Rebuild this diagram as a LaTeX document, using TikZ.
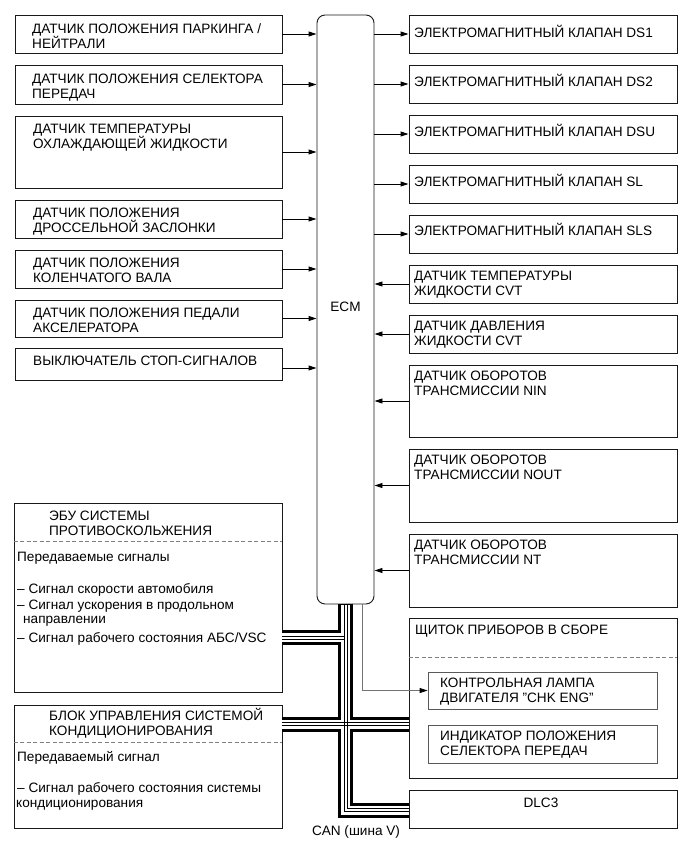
\documentclass[tikz,border=0pt]{standalone}
\usepackage{fontspec}
\setmainfont{Liberation Sans}
\usetikzlibrary{arrows.meta,fit,calc}
\begin{document}
\begin{tikzpicture}[x=1pt,y=-1pt,
  box/.style={draw=black!90, line width=0.9pt, inner sep=0pt},
  ibox/.style={draw=black!65, line width=0.8pt, inner sep=0pt},
  txt/.style={anchor=base west, inner sep=0pt, font=\fontsize{13.6}{15}\selectfont, align=left},
  arr/.style={line width=0.9pt, draw=black, -{Triangle[length=8pt,width=5pt]}},
  garr/.style={line width=0.9pt, draw=black!55, -{Triangle[length=8pt,width=5pt,fill=black,color=black]}},
  sepline/.style={draw=black!50, line width=0.8pt, dash pattern=on 4pt off 2.5pt},
  busouter/.style={draw=black, line width=15pt},
  businner/.style={draw=white, line width=9pt},
  buswire/.style={draw=black, line width=0.8pt},
]
\useasboundingbox (0,0) rectangle (691,855);
\fill[white] (0,0) rectangle (691,855);

% ECM
\node[box, rounded corners=8pt, fit={(317,15)(374,604)}] (ECM) {};
\node[inner sep=0pt, font=\fontsize{13.6}{15}\selectfont] (ECMt) at (345.5,307) {ECM};

% left input boxes
\node[box, fit={(15,15)(282,53)}] (L1) {};
\node[box, fit={(15,65)(282,104)}] (L2) {};
\node[box, fit={(15,116)(282,188)}] (L3) {};
\node[box, fit={(15,200)(282,238)}] (L4) {};
\node[box, fit={(15,250)(282,288)}] (L5) {};
\node[box, fit={(15,300)(282,337)}] (L6) {};
\node[box, fit={(15,348)(282,380)}] (L7) {};
\node[txt] (L1t) at (32,48) {ДАТЧИК ПОЛОЖЕНИЯ ПАРКИНГА /\\НЕЙТРАЛИ};
\node[txt] (L2t) at (32,98) {ДАТЧИК ПОЛОЖЕНИЯ СЕЛЕКТОРА\\ПЕРЕДАЧ};
\node[txt] (L3t) at (33,148) {ДАТЧИК ТЕМПЕРАТУРЫ\\ОХЛАЖДАЮЩЕЙ ЖИДКОСТИ};
\node[txt] (L4t) at (33,232) {ДАТЧИК ПОЛОЖЕНИЯ\\ДРОССЕЛЬНОЙ ЗАСЛОНКИ};
\node[txt] (L5t) at (33,282) {ДАТЧИК ПОЛОЖЕНИЯ\\КОЛЕНЧАТОГО ВАЛА};
\node[txt] (L6t) at (33,332.5) {ДАТЧИК ПОЛОЖЕНИЯ ПЕДАЛИ\\АКСЕЛЕРАТОРА};
\node[txt] (L7t) at (33,365) {ВЫКЛЮЧАТЕЛЬ СТОП-СИГНАЛОВ};

\foreach \n in {L1,L2,L3,L4,L5,L6}{\draw[arr] (\n.east) -- (\n.east -| ECM.west);}
\coordinate (L7a) at (282,368);
\draw[arr] (L7a) -- (L7a -| ECM.west);

% right boxes
\node[box, fit={(409,15)(677,53)}] (R1) {};
\node[box, fit={(409,65)(677,103)}] (R2) {};
\node[box, fit={(409,115)(677,153)}] (R3) {};
\node[box, fit={(409,165)(677,203)}] (R4) {};
\node[box, fit={(409,215)(677,253)}] (R5) {};
\node[box, fit={(409,265)(677,303)}] (R6) {};
\node[box, fit={(409,315)(677,353)}] (R7) {};
\node[box, fit={(409,365)(677,437)}] (R8) {};
\node[box, fit={(409,449)(677,522)}] (R9) {};
\node[box, fit={(409,534)(677,607)}] (R10) {};
\node[txt] (R1t) at (414,37) {ЭЛЕКТРОМАГНИТНЫЙ КЛАПАН DS1};
\node[txt] (R2t) at (414,86) {ЭЛЕКТРОМАГНИТНЫЙ КЛАПАН DS2};
\node[txt] (R3t) at (414,136) {ЭЛЕКТРОМАГНИТНЫЙ КЛАПАН DSU};
\node[txt] (R4t) at (414,186.5) {ЭЛЕКТРОМАГНИТНЫЙ КЛАПАН SL};
\node[txt] (R5t) at (414,235) {ЭЛЕКТРОМАГНИТНЫЙ КЛАПАН SLS};
\node[txt] (R6t) at (414,295) {ДАТЧИК ТЕМПЕРАТУРЫ\\ЖИДКОСТИ CVT};
\node[txt] (R7t) at (414,345) {ДАТЧИК ДАВЛЕНИЯ\\ЖИДКОСТИ CVT};
\node[txt] (R8t) at (414,395.5) {ДАТЧИК ОБОРОТОВ\\ТРАНСМИССИИ NIN};
\node[txt] (R9t) at (414,479.5) {ДАТЧИК ОБОРОТОВ\\ТРАНСМИССИИ NOUT};
\node[txt] (R10t) at (414,564.5) {ДАТЧИК ОБОРОТОВ\\ТРАНСМИССИИ NT};

\foreach \n in {R1,R2,R3,R4,R5}{\draw[arr] (\n.west -| ECM.east) -- (\n.west);}
\foreach \n in {R6,R7,R8,R9,R10}{\draw[arr] (\n.west) -- (\n.west -| ECM.east);}

% instrument cluster
\node[box, fit={(409,618)(677,778)}] (IC) {};
\node[txt] (ICt) at (415,634) {ЩИТОК ПРИБОРОВ В СБОРЕ};
\draw[sepline] (IC.west |- 0,657) -- (IC.east |- 0,657);
\node[ibox, fit={(428,672)(657,709)}] (I1) {};
\node[ibox, fit={(428,725)(657,763)}] (I2) {};
\node[txt] (I1t) at (440,702) {КОНТРОЛЬНАЯ ЛАМПА\\ДВИГАТЕЛЯ "CHK ENG"};
\node[txt] (I2t) at (440,755.5) {ИНДИКАТОР ПОЛОЖЕНИЯ\\СЕЛЕКТОРА ПЕРЕДАЧ};

% DLC3
\node[box, fit={(409,790)(677,828)}] (DLC) {};
\node[anchor=base, inner sep=0pt, font=\fontsize{13.6}{15}\selectfont] (DLCt) at (541,807) {DLC3};

% ABS ECU
\node[box, fit={(14,503)(282,692)}] (ABS) {};
\node[txt] (ABSt) at (49,535) {ЭБУ СИСТЕМЫ\\ПРОТИВОСКОЛЬЖЕНИЯ};
\draw[sepline] (ABS.west |- 0,541) -- (ABS.east |- 0,541);
\node[txt] (ABSb1) at (17,561.5) {Передаваемые сигналы};
\node[txt] (ABSb2) at (17,593.5) {– Сигнал скорости автомобиля};
\node[txt] (ABSb3) at (17,609.5) {– Сигнал ускорения в продольном};
\node[txt] (ABSb4) at (23,623.5) {направлении};
\node[txt] (ABSb5) at (17,642.5) {– Сигнал рабочего состояния АБС/VSC};

% A/C
\node[box, fit={(14,705)(282,828)}] (AC) {};
\node[txt] (ACt) at (49,735) {БЛОК УПРАВЛЕНИЯ СИСТЕМОЙ\\КОНДИЦИОНИРОВАНИЯ};
\draw[sepline] (AC.west |- 0,742) -- (AC.east |- 0,742);
\node[txt] (ACb1) at (17,761.5) {Передаваемый сигнал};
\node[txt] (ACb2) at (17,792.5) {– Сигнал рабочего состояния системы};
\node[txt] (ACb3) at (16,807.5) {кондиционирования};

% CAN bus
\coordinate (busCorner) at (345.5,810);
\coordinate (busEnd) at (DLC.west |- busCorner);
\coordinate (absJ) at (345.5,637.5);
\coordinate (absEnd) at (ABS.east |- absJ);
\coordinate (crossL) at (AC.east |- 0,724);
\coordinate (crossR) at (IC.west |- 0,724);

\draw[busouter] (ECM.south) -- (busCorner) -- (busEnd);
\draw[busouter] (absEnd) -- (absJ);
\draw[busouter] (crossL) -- (crossR);
\draw[businner] ($(ECM.south)+(0,0.5)$) -- (busCorner) -- ($(busEnd)+(0.5,0)$);
\draw[businner] ($(absEnd)+(-0.5,0)$) -- (absJ);
\draw[businner] ($(crossL)+(-0.5,0)$) -- ($(crossR)+(0.5,0)$);

\draw[buswire] ($(ECM.south)+(-1.5,0)$) -- ($(busCorner)+(-1.5,1.5)$) -- ($(busEnd)+(0,1.5)$);
\draw[buswire] ($(ECM.south)+(1.5,0)$) -- ($(busCorner)+(1.5,-1.5)$) -- ($(busEnd)+(0,-1.5)$);
\draw[buswire] ($(absEnd)+(0,-1.5)$) -- ($(absJ)+(-1.5,-1.5)$);
\draw[buswire] ($(absEnd)+(0,1.5)$) -- ($(absJ)+(-1.5,1.5)$);
\draw[buswire] ($(crossL)+(0,-1.5)$) -- ($(crossR)+(0,-1.5)$);
\draw[buswire] ($(crossL)+(0,1.5)$) -- ($(crossR)+(0,1.5)$);

\node[inner sep=0pt, font=\fontsize{13.6}{15}\selectfont] (CAN) at (356,832) {CAN (шина V)};

% CHK ENG line
\coordinate (chkTurn) at (362,690.5);
\draw[garr] (chkTurn |- ECM.south) -- (chkTurn) -- (chkTurn -| I1.west);
\end{tikzpicture}
\end{document}
